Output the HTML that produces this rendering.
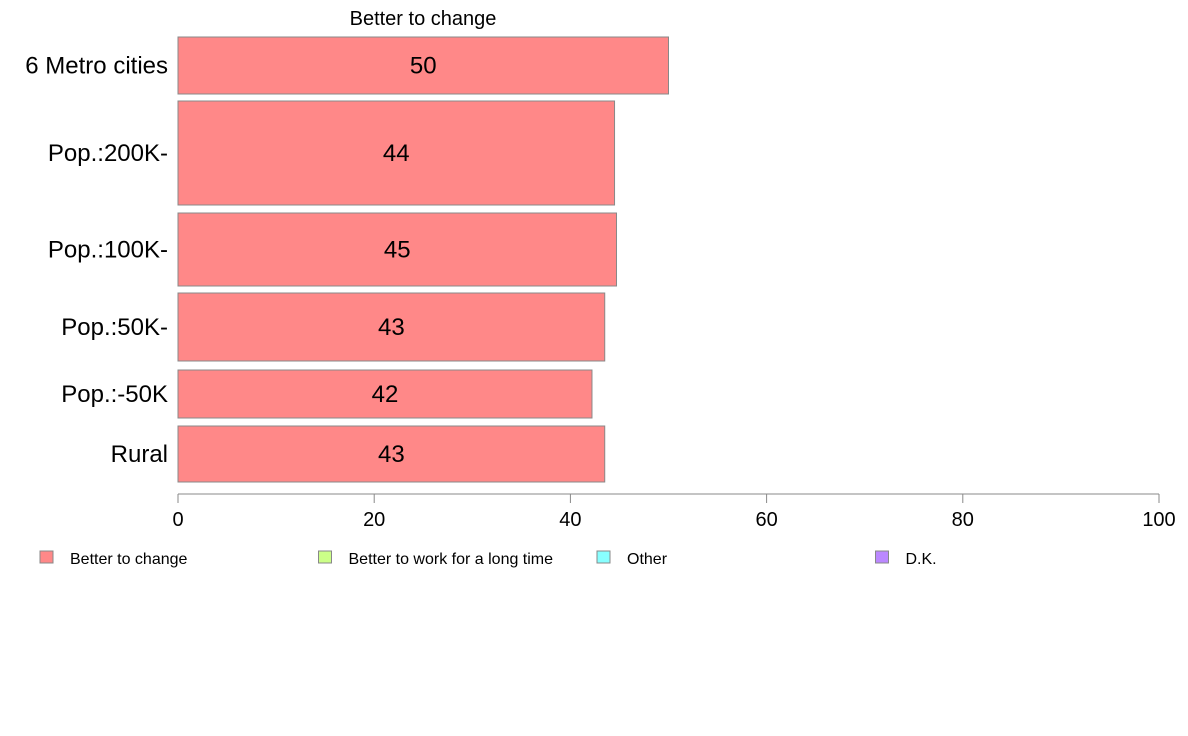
<!DOCTYPE html>
<html><head><meta charset="utf-8"><style>
body{margin:0;background:#fff;}
svg{display:block;font-family:"Liberation Sans",Arial,sans-serif;}
</style></head><body>
<svg id="chart" width="1188" height="736">
<text x="423" y="25" font-size="20" text-anchor="middle">Better to change</text>
<g id="bars"></g>
<g id="axis"></g>
<g id="legend"></g>
</svg>
<script>
const categories = ["6 Metro cities","Pop.:200K-","Pop.:100K-","Pop.:50K-","Pop.:-50K","Rural"];
const values = [50, 44.5, 44.7, 43.5, 42.2, 43.5];
const valueLabels = ["50","44","45","43","42","43"];
const rowTops = [37,101,213,293,370,426];
const rowBottoms = [94,205,286,361,418,482];
const ticks = [0,20,40,60,80,100];
const legendLabels = ["Better to change","Better to work for a long time","Other","D.K."];
const legendColors = ["#ff8888","#ccff88","#88ffff","#bb88ff"];

const NS="http://www.w3.org/2000/svg";
const x0=178, x1=1159;
const xs=v=>x0+(x1-x0)*v/100;
function mk(tag,attrs,parent){const e=document.createElementNS(NS,tag);for(const k in attrs)e.setAttribute(k,attrs[k]);parent.appendChild(e);return e;}
const bars=document.getElementById('bars');
categories.forEach((c,i)=>{
  const t=rowTops[i], b=rowBottoms[i], m=(t+b)/2;
  const r=mk('rect',{x:x0,y:t,width:xs(values[i])-x0,height:b-t,fill:'#ff8888',stroke:'#888','stroke-width':1},bars);
  
  
  const vl=mk('text',{x:(x0+xs(values[i]))/2,y:m+8,'font-size':24,'text-anchor':'middle'},bars);
  vl.textContent=valueLabels[i];
  
  
  const cl=mk('text',{x:168,y:m+8,'font-size':24,'text-anchor':'end'},bars);
  cl.textContent=c;
  
  
});
const ax=document.getElementById('axis');
const al=mk('line',{x1:x0,x2:x1,y1:494,y2:494,stroke:'#888'},ax);


ticks.forEach(v=>{
  const tl=mk('line',{x1:xs(v),x2:xs(v),y1:494,y2:503,stroke:'#888'},ax);
  
  
  const tt=mk('text',{x:xs(v),y:526,'font-size':20,'text-anchor':'middle'},ax);
  tt.textContent=v;
  
  
});
const lg=document.getElementById('legend');
legendLabels.forEach((l,i)=>{
  const lx=40+i*278.5;
  const g=mk('g',{},lg);
  
  
  mk('rect',{x:lx,y:551,width:13,height:12,fill:legendColors[i],stroke:'#888'},g);
  const t=mk('text',{x:lx+30,y:564,'font-size':16},g);
  t.textContent=l;
});
</script>
</body></html>
